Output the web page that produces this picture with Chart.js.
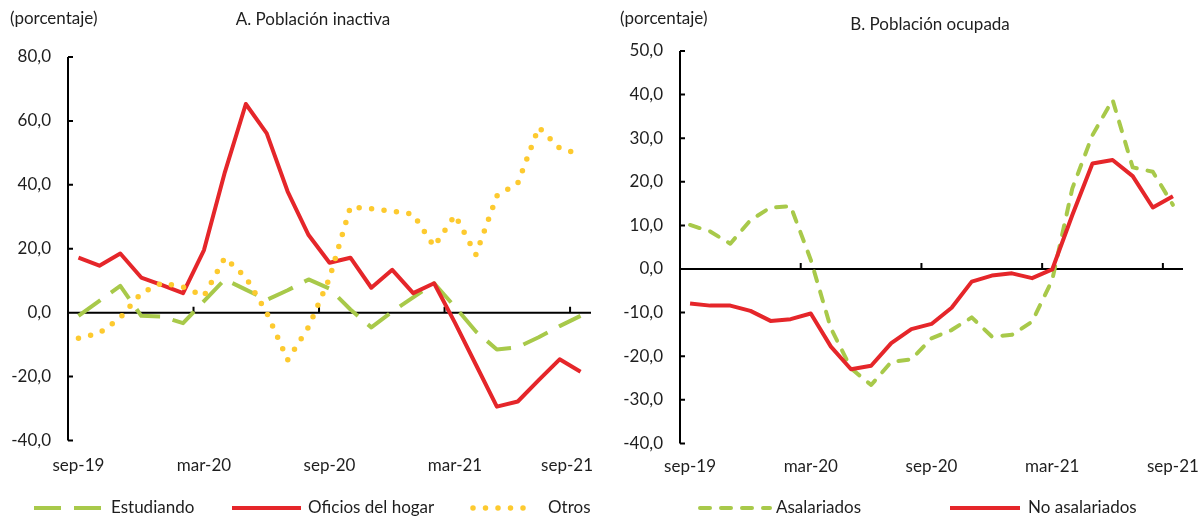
<!DOCTYPE html>
<html>
<head>
<meta charset="utf-8">
<script src="https://cdn.jsdelivr.net/npm/chart.js@4.4.1/dist/chart.umd.min.js"></script>
<style>
  body { margin: 0; background: #fff; }
  #wrap { position: relative; width: 1198px; height: 518px; }
  #chartA { position: absolute; left: 0; top: 0; }
  #chartB { position: absolute; left: 600px; top: 0; }
</style>
</head>
<body>
<div id="wrap">
  <canvas id="chartA" width="600" height="518"></canvas>
  <canvas id="chartB" width="598" height="518"></canvas>
</div>
<script>
const months = [
  "sep-19", "oct-19", "nov-19", "dic-19", "ene-20", "feb-20", "mar-20", "abr-20", "may-20",
  "jun-20", "jul-20", "ago-20", "sep-20", "oct-20", "nov-20", "dic-20", "ene-21", "feb-21",
  "mar-21", "abr-21", "may-21", "jun-21", "jul-21", "ago-21", "sep-21"
];
const xTickLabels = ["sep-19", "mar-20", "sep-20", "mar-21", "sep-21"];
const yTicksA = [-40, -20, 0, 20, 40, 60, 80];
const yTicksB = [-40, -30, -20, -10, 0, 10, 20, 30, 40, 50];

// A. Población inactiva
const estudiando = [-1.0, 3.7, 8.4, -1.0, -1.2, -3.3, 3.6, 10.4, 7.2, 4.0, 7.0, 10.4, 7.5,
  1.0, -4.6, 0.3, 4.8, 9.2, 1.8, -5.9, -11.5, -10.8, -7.7, -4.2, -1.0];
const oficiosHogar = [17.2, 14.7, 18.5, 11.0, 8.6, 6.1, 19.6, 44.0, 65.3, 56.1, 37.9, 24.3, 15.6,
  17.2, 7.8, 13.4, 6.1, 9.2, -3.2, -16.3, -29.4, -27.8, -21.1, -14.6, -18.5];
const otros = [-8.0, -6.4, -1.6, 6.1, 9.3, 8.0, 5.2, 17.2, 11.0, 0.0, -14.8, -4.5, 10.8,
  33.1, 32.5, 31.8, 30.8, 20.7, 30.5, 18.2, 36.5, 40.5, 58.0, 51.5, 49.5];

// B. Población ocupada
const asalariados = [10.1, 8.6, 5.8, 11.2, 14.1, 14.4, 2.1, -13.6, -22.8, -26.6, -21.3, -20.7, -15.9,
  -14.0, -11.1, -15.5, -15.1, -12.1, -2.5, 18.5, 30.7, 38.8, 23.3, 22.3, 14.7];
const noAsalariados = [-7.9, -8.4, -8.4, -9.6, -11.9, -11.5, -10.2, -17.8, -23.0, -22.2, -17.0, -13.8, -12.6,
  -8.9, -2.9, -1.5, -1.0, -2.1, -0.1, 12.4, 24.2, 25.0, 21.3, 14.1, 16.7];

const GREEN = "#a8c94a";
const RED = "#e5262a";
const YELLOW = "#fdca2f";
const TEXT = "#1e1e1e";
const FONT = "Lato, 'Open Sans', sans-serif";

const fmt = v => v.toFixed(1).replace(".", ",");

// ejes cruzando en cero, marcas hacia dentro, títulos y leyenda propia
function makeDecor(cfg) {
  return {
    id: "decor",
    beforeDraw(chart) {
      // como en Excel, la última etiqueta se recorre para no salirse del gráfico
      if (!cfg.lastLabelInside) return;
      const items = chart.scales.x.getLabelItems();
      const last = items[items.length - 1];
      last.options.textAlign = "right";
      last.options.translation[0] = chart.chartArea.right + 2;
    },
    beforeDatasetsDraw(chart) {
      const {ctx, chartArea: a, scales: {x, y}} = chart;
      const y0 = y.getPixelForValue(0);
      ctx.save();
      ctx.strokeStyle = "#000";
      ctx.lineWidth = 2;
      ctx.beginPath();
      ctx.moveTo(a.left, a.top);
      ctx.lineTo(a.left, a.bottom);
      ctx.moveTo(a.left, y0);
      ctx.lineTo(a.right, y0);
      y.ticks.forEach(t => {
        const p = y.getPixelForValue(t.value);
        ctx.moveTo(a.left, p);
        ctx.lineTo(a.left + 5, p);
      });
      for (let i = 6; i < months.length; i += 6) {
        const p = (x.getPixelForValue(i - 1) + x.getPixelForValue(i)) / 2;
        ctx.moveTo(p, y0);
        ctx.lineTo(p, y0 - 6);
      }
      ctx.stroke();
      ctx.restore();
    },
    afterDraw(chart) {
      const ctx = chart.ctx;
      ctx.save();
      ctx.fillStyle = TEXT;
      ctx.font = "17px " + FONT;
      ctx.textBaseline = "middle";
      ctx.textAlign = "left";
      ctx.fillText("(porcentaje)", cfg.unitX, cfg.unitY);
      ctx.textAlign = "center";
      ctx.fillText(cfg.title, cfg.titleX, cfg.titleY);
      ctx.textAlign = "left";
      cfg.legend.forEach((it, i) => {
        const ds = chart.data.datasets[i];
        ctx.strokeStyle = ds.borderColor;
        ctx.lineWidth = ds.borderWidth;
        ctx.setLineDash(ds.borderDash || []);
        ctx.lineCap = ds.borderCapStyle || "butt";
        ctx.beginPath();
        ctx.moveTo(it[0], cfg.legendY);
        ctx.lineTo(it[1], cfg.legendY);
        ctx.stroke();
        ctx.setLineDash([]);
        ctx.fillText(ds.label, it[2], cfg.legendY);
      });
      ctx.restore();
    }
  };
}

function panel(id, datasets, yTicks, box, decorCfg) {
  return new Chart(document.getElementById(id), {
    type: "line",
    data: {labels: months, datasets},
    options: {
      responsive: false,
      animation: false,
      layout: {padding: {top: box.top, right: box.right, left: 0, bottom: 0}},
      plugins: {legend: {display: false}, tooltip: {enabled: false}},
      elements: {point: {radius: 0}, line: {tension: 0, borderJoinStyle: "round"}},
      scales: {
        x: {
          offset: true,
          grid: {display: false, drawTicks: false},
          border: {display: false},
          ticks: {
            autoSkip: false, maxRotation: 0, padding: box.xPad, color: TEXT,
            font: {family: FONT, size: 17},
            callback: (v, i) => xTickLabels.includes(months[i]) ? months[i] : ""
          },
          afterFit: s => {
            s.height = box.xHeight;
            s.paddingLeft = 0;
            s.paddingRight = 0;
          }
        },
        y: {
          min: yTicks[0],
          max: yTicks[yTicks.length - 1],
          grid: {display: false, drawTicks: false},
          border: {display: false},
          afterBuildTicks: s => { s.ticks = yTicks.map(v => ({value: v})); },
          ticks: {padding: box.yPad, color: TEXT, font: {family: FONT, size: 17}, callback: v => fmt(v)},
          afterFit: s => { s.width = box.yWidth; }
        }
      }
    },
    plugins: [makeDecor(decorCfg)]
  });
}

panel("chartA", [
  {label: "Estudiando", data: estudiando, borderColor: GREEN, borderWidth: 4,
   borderDash: [27, 13], borderCapStyle: "butt", order: 3},
  {label: "Oficios del hogar", data: oficiosHogar, borderColor: RED, borderWidth: 4, order: 2},
  {label: "Otros", data: otros, borderColor: YELLOW, borderWidth: 5.5,
   borderDash: [0, 12.5], borderCapStyle: "round", order: 1}
], yTicksA,
  {top: 57, right: 9, yWidth: 68, xHeight: 77.5, xPad: 15, yPad: 17},
  {unitX: 10, unitY: 19, title: "A. Población inactiva", titleX: 313, titleY: 20,
   legendY: 508, legend: [[34, 103, 111], [232, 301, 308], [473, 529, 548]], lastLabelInside: true});

panel("chartB", [
  {label: "Asalariados", data: asalariados, borderColor: GREEN, borderWidth: 4,
   borderDash: [10, 11], borderCapStyle: "round", order: 2},
  {label: "No asalariados", data: noAsalariados, borderColor: RED, borderWidth: 4, order: 1}
], yTicksB,
  {top: 51, right: 15, yWidth: 80, xHeight: 74.6, xPad: 13, yPad: 17},
  {unitX: 20, unitY: 19, title: "B. Población ocupada", titleX: 330, titleY: 25,
   legendY: 508, legend: [[100, 170, 176], [350, 420, 428]], lastLabelInside: false});
</script>
</body>
</html>
